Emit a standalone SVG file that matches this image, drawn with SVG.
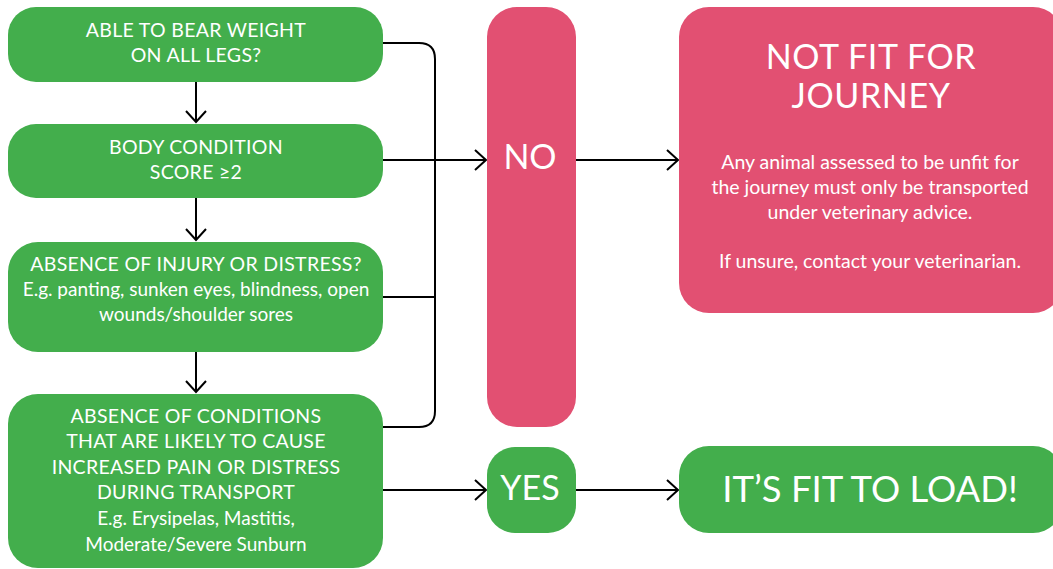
<svg xmlns="http://www.w3.org/2000/svg" width="1053" height="569" viewBox="0 0 1053 569">
<style>
.g{fill:#43ae4c}
.p{fill:#e25072}
.t{fill:#fff;font-family:Lato,"Open Sans",sans-serif;text-anchor:middle}
.s{font-size:19px}
.u{font-size:19.5px;letter-spacing:0.3px}
.b{font-size:19.5px}
.h{font-size:34px;letter-spacing:0.6px}
.c{stroke:#000;stroke-width:2;fill:none}
</style>
<defs>
<marker id="ah" markerUnits="userSpaceOnUse" markerWidth="14" markerHeight="24" viewBox="-12 -12 14 24" refX="0" refY="0" orient="auto">
<path d="M-11,-10 L0,0 L-11,10" fill="none" stroke="#000" stroke-width="2"/>
</marker>
</defs>
<rect width="1053" height="569" fill="#fff"/>
<g id="connectors" class="c">
<path d="M196,82 V122" marker-end="url(#ah)"/>
<path d="M196,198 V240" marker-end="url(#ah)"/>
<path d="M196,352 V392" marker-end="url(#ah)"/>
<path d="M383,43 H419 Q435,43 435,59 V411 Q435,427 419,427 H383"/>
<path d="M383,297 H435"/>
<path d="M383,160 H486" marker-end="url(#ah)"/>
<path d="M576,160 H678" marker-end="url(#ah)"/>
<path d="M383,490 H486" marker-end="url(#ah)"/>
<path d="M576,490 H678" marker-end="url(#ah)"/>
</g>
<g id="n1"><rect class="g" x="8" y="7" width="375" height="75" rx="28"/>
<text class="t u" x="196" y="37">ABLE TO BEAR WEIGHT</text>
<text class="t u" x="196" y="62">ON ALL LEGS?</text></g>
<g id="n2"><rect class="g" x="8" y="124" width="375" height="74" rx="28"/>
<text class="t u" x="196" y="154">BODY CONDITION</text>
<text class="t u" x="196" y="179">SCORE ≥2</text></g>
<g id="n3"><rect class="g" x="8" y="242" width="375" height="110" rx="30"/>
<text class="t u" x="196" y="271">ABSENCE OF INJURY OR DISTRESS?</text>
<text class="t s" x="196" y="296">E.g. panting, sunken eyes, blindness, open</text>
<text class="t s" x="196" y="321">wounds/shoulder sores</text></g>
<g id="n4"><rect class="g" x="8" y="394" width="375" height="174" rx="30"/>
<text class="t u" x="196" y="423">ABSENCE OF CONDITIONS</text>
<text class="t u" x="196" y="448">THAT ARE LIKELY TO CAUSE</text>
<text class="t u" x="196" y="474">INCREASED PAIN OR DISTRESS</text>
<text class="t u" x="196" y="499">DURING TRANSPORT</text>
<text class="t s" x="196" y="525">E.g. Erysipelas, Mastitis,</text>
<text class="t s" x="196" y="551">Moderate/Severe Sunburn</text></g>
<g id="no"><rect class="p" x="487" y="7" width="89" height="420" rx="30"/>
<text class="t" x="530" y="169" font-size="34">NO</text></g>
<g id="yes"><rect class="g" x="487" y="447" width="89" height="86" rx="28"/>
<text class="t" x="530" y="500" font-size="34">YES</text></g>
<g id="notfit"><rect class="p" x="679" y="7" width="384" height="306" rx="30"/>
<text class="t h" x="871" y="69">NOT FIT FOR</text>
<text class="t h" x="871" y="108">JOURNEY</text>
<text class="t b" x="870" y="169">Any animal assessed to be unfit for</text>
<text class="t b" x="870" y="194">the journey must only be transported</text>
<text class="t b" x="870" y="219">under veterinary advice.</text>
<text class="t b" x="870" y="268">If unsure, contact your veterinarian.</text></g>
<g id="fit"><rect class="g" x="679" y="446" width="384" height="87" rx="30"/>
<text class="t" x="870" y="502" font-size="36.5">IT’S FIT TO LOAD!</text></g>
</svg>
